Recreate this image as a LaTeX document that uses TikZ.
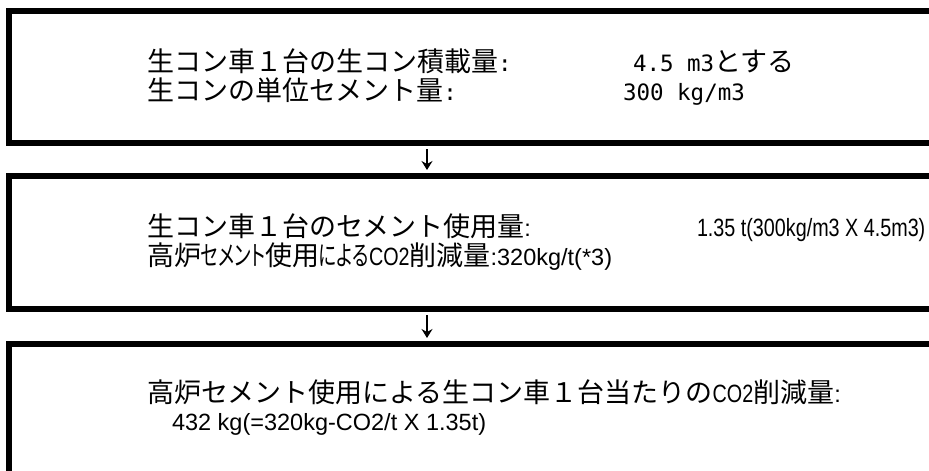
\documentclass[tikz,border=0pt]{standalone}
\usepackage{fontspec}
\usepackage{graphicx}
\usetikzlibrary{arrows.meta}
\newfontfamily\jpf{Noto Sans CJK JP}
\newfontfamily\jpp[RawFeature=+palt]{Noto Sans CJK JP}
\newfontfamily\laf{Liberation Sans}
\newfontfamily\mof{DejaVu Sans Mono}
\newcommand{\J}[1]{{\jpf\fontsize{27}{30}\selectfont #1}}
\newcommand{\JP}[1]{{\jpp\fontsize{27}{30}\selectfont #1}}
\newcommand{\Lt}[1]{{\laf\fontsize{23.5}{30}\selectfont #1}}
\newcommand{\Ln}[1]{{\laf\fontsize{25}{30}\selectfont\scalebox{0.79}[1]{#1}}}
\newcommand{\M}[1]{{\mof\fontsize{22.5}{30}\selectfont #1}}
\newcommand{\fitw}[2]{\resizebox{#1}{\height}{#2}}
\begin{document}
\begin{tikzpicture}[x=1pt,y=-1pt,
  box/.style={draw=black,line width=6pt,rectangle,inner sep=0pt,minimum width=950pt},
  txt/.style={anchor=base west,inner sep=0pt,outer sep=0pt},
  arr/.style={draw=black,line width=2.6pt,-{Stealth[length=9pt,width=11pt,inset=3pt]},shorten >=3pt,shorten <=3pt}]
\useasboundingbox (0,0) rectangle (929,471);
\clip (0,0) rectangle (929,471);
\fill[white] (0,0) rectangle (929,471);
\node[box,minimum height=132pt] (b1) at (484,77) {};
\node[box,minimum height=133pt] (b2) at (484,242.5) {};
\node[box,minimum height=140pt] (b3) at (484,414) {};
\coordinate (ax) at (427,0);
\draw[arr] (b1.south -| ax) -- (b2.north -| ax);
\draw[arr] (b2.south -| ax) -- (b3.north -| ax);
% box 1
\node[txt] (t11) at (147,71) {\J{生コン車１台の生コン積載量}\M{:}};
\node[txt] (v11) at (633,71) {\M{4.5 m3}\J{とする}};
\node[txt] (t12) at (147,100) {\J{生コンの単位セメント量}\M{:}};
\node[txt] (v12) at (623,100) {\M{300 kg/m3}};
% box 2
\node[txt] (t21) at (147,236) {\J{生コン車１台のセメント使用量}\Lt{:}};
\node[txt] (v21) at (697,236) {\Ln{1.35 t(300kg/m3 X 4.5m3)}};
\node[txt] (t22) at (147,265) {\J{高炉}\fitw{64pt}{\JP{セメント}}\J{使用}\fitw{50pt}{\JP{による}}\Ln{CO2}\J{削減量}\Lt{:320kg/t(*3)}};
% box 3
\node[txt] (t31) at (147,402) {\J{高炉セメント使用による生コン車１台当たりの}\Ln{CO2}\J{削減量}\Lt{:}};
\node[txt] (t32) at (172,430) {\Lt{432 kg(=320kg-CO2/t X 1.35t)}};
\end{tikzpicture}
\end{document}
